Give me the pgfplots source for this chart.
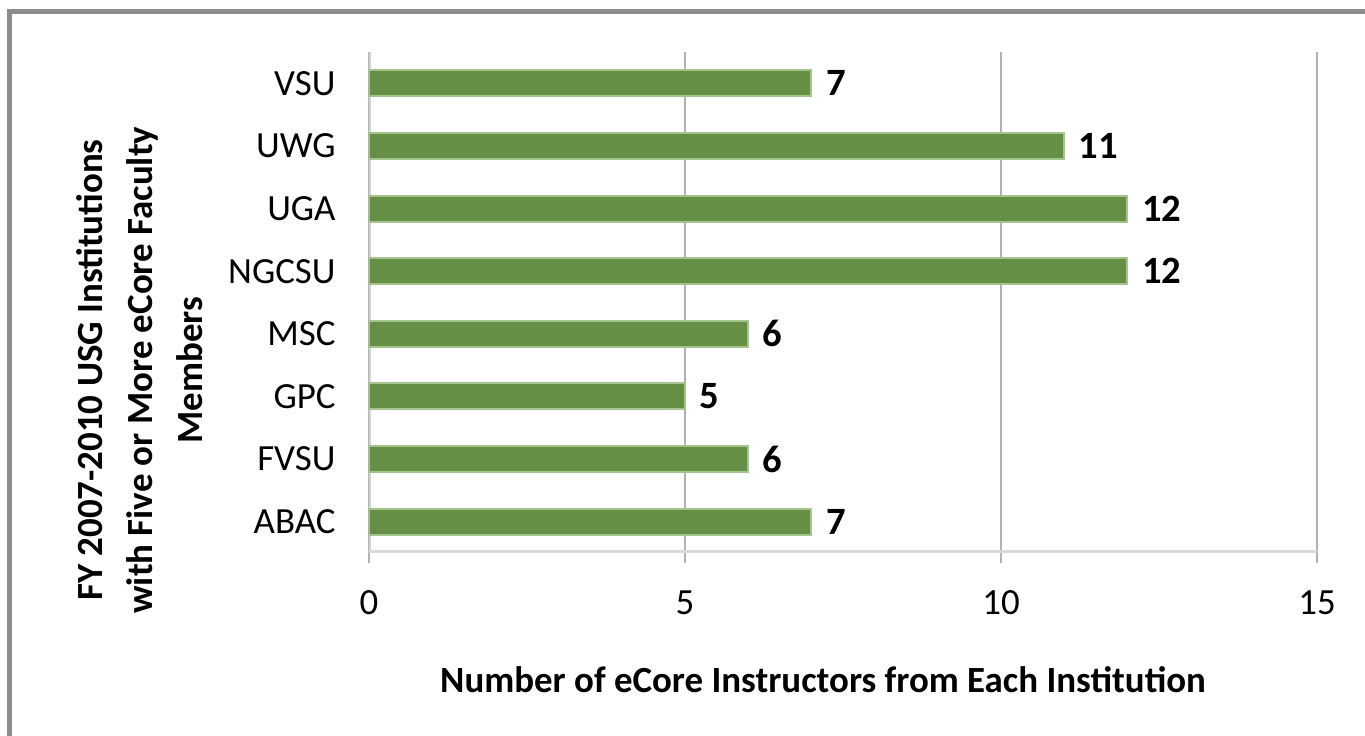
\documentclass[border=0pt]{standalone}
\usepackage{pgfplots}
\pgfplotsset{compat=1.18}
\usepackage{fontspec}
\setmainfont{Carlito}
\definecolor{barfill}{RGB}{101,143,69}
\definecolor{baredge}{RGB}{165,195,140}
\begin{document}
\begin{tikzpicture}
\useasboundingbox (-3.69,-1.83) rectangle (9.96,5.53);
\fill[white] (-3.69,-1.83) rectangle (9.96,5.53);
\draw[color=black!45, line width=0.05cm] (-3.59,-1.9) -- (-3.59,5.41) -- (10.1,5.41);
\begin{axis}[
  at={(0,0)}, anchor=south west,
  scale only axis, width=9.48cm, height=5.01cm,
  xmin=0, xmax=15, ymin=-0.5, ymax=7.5,
  xbar, bar width=0.26cm,
  ytick={0,...,7},
  yticklabels={ABAC,FVSU,GPC,MSC,NGCSU,UGA,UWG,VSU},
  xtick={0,5,10,15},
  xtick pos=bottom, ytick pos=left,
  xmajorgrids,
  grid style={color=black!30, line width=0.8pt},
  axis line style={draw=none},
  tick align=outside, major tick length=0.1cm,
  xtick style={draw=black!30, line width=0.8pt},
  ytick style={draw=none},
  ticklabel style={font=\fontsize{10.5}{12}\selectfont},
  xticklabel style={yshift=-0.15cm},
  yticklabel style={xshift=-0.11cm},
  /pgf/number format/assume math mode=true,
  xlabel={Number of eCore Instructors from Each Institution},
  xlabel style={font=\fontsize{10.5}{12}\selectfont\bfseries, at={(rel axis cs:0.479,0)}, anchor=center, yshift=-1.27cm},
  ylabel={FY 2007-2010 USG Institutions\\with Five or More eCore Faculty\\Members},
  ylabel style={font=\fontsize{10.5}{14.2}\selectfont\bfseries, align=center, at={(rel axis cs:-0.2416,0.365)}, anchor=center},
  nodes near coords,
  nodes near coords style={font=\fontsize{11}{12}\selectfont\bfseries, anchor=west, xshift=0.02cm},
]
\draw[draw=black!18, line width=1.2pt] (rel axis cs:0,0) -- (rel axis cs:0,1);
\addplot[fill=barfill, draw=baredge, line width=0.6pt] coordinates {
  (7,0) (6,1) (5,2) (6,3) (12,4) (12,5) (11,6) (7,7)
};
\draw[draw=black!15, line width=1.6pt] (rel axis cs:0,0) -- (rel axis cs:1,0);
\end{axis}
\end{tikzpicture}
\end{document}
